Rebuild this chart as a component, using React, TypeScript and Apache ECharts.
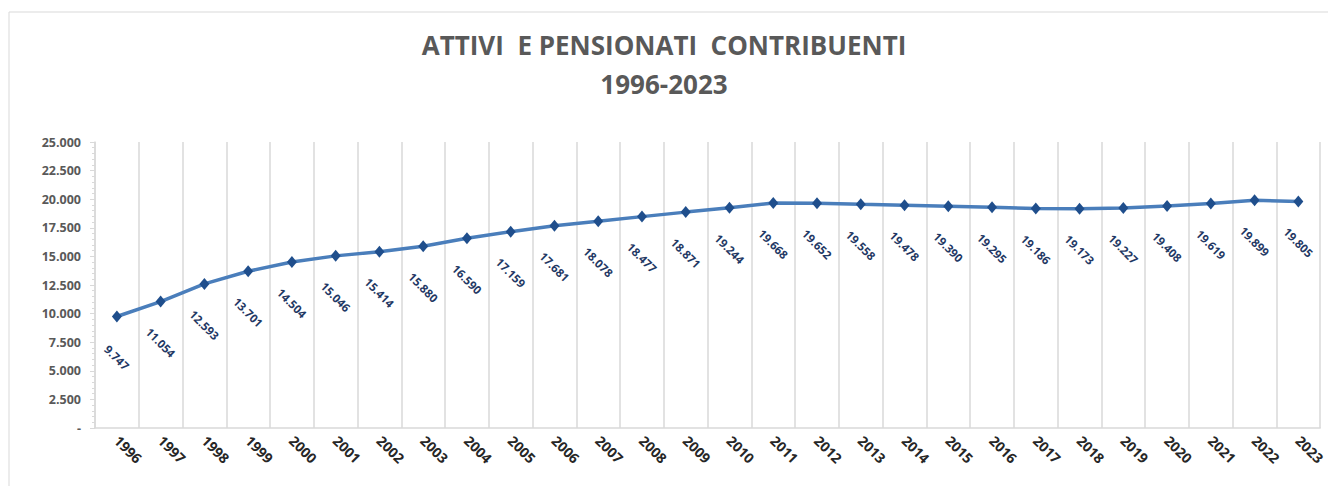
import React, { useEffect, useRef } from "react";
import * as echarts from "echarts";

const years = [
  "1996", "1997", "1998", "1999", "2000", "2001", "2002", "2003", "2004", "2005",
  "2006", "2007", "2008", "2009", "2010", "2011", "2012", "2013", "2014", "2015",
  "2016", "2017", "2018", "2019", "2020", "2021", "2022", "2023",
];
const contributors = [
  9747, 11054, 12593, 13701, 14504, 15046, 15414, 15880, 16590, 17159,
  17681, 18078, 18477, 18871, 19244, 19668, 19652, 19558, 19478, 19390,
  19295, 19186, 19173, 19227, 19408, 19619, 19899, 19805,
];
const titleLines = ["ATTIVI  E PENSIONATI  CONTRIBUENTI", "1996-2023"];

const fmt = (v: number) => {
  if (v === 0) return "-";
  return String(Math.round(v)).replace(/\B(?=(\d{3})+(?!\d))/g, ".");
};

export default function App() {
  const ref = useRef<HTMLDivElement>(null);
  useEffect(() => {
    if (!ref.current) return;
    const chart = echarts.init(ref.current, null, { renderer: "svg" });
    chart.setOption({
      animation: false,
      backgroundColor: "#ffffff",
      graphic: [
        {
          type: "rect",
          shape: { x: 9, y: 12, width: 1330, height: 500 },
          style: { fill: "none", stroke: "#d9d9d9", lineWidth: 1 },
          silent: true,
          z: -1,
        },
      ],
      title: {
        text: titleLines.join("\n"),
        left: "center",
        top: 20,
        textStyle: {
          fontFamily: "Open Sans",
          fontWeight: "bold",
          fontSize: 26,
          color: "#595959",
          lineHeight: 39,
        },
      },
      grid: { left: 95, right: 5, top: 142, bottom: 58 },
      xAxis: {
        type: "category",
        data: years,
        boundaryGap: true,
        axisLine: { lineStyle: { color: "#d9d9d9", width: 1.5 } },
        axisTick: { show: false },
        splitLine: { show: true, lineStyle: { color: "#d9d9d9", width: 1.5 } },
        axisLabel: {
          rotate: -45,
          margin: 10,
          interval: 0,
          fontFamily: "Open Sans",
          fontWeight: "bold",
          fontSize: 14,
          color: "#262626",
        },
      },
      yAxis: {
        type: "value",
        min: 0,
        max: 25000,
        interval: 2500,
        axisLine: { show: true, lineStyle: { color: "#d9d9d9", width: 1.5 } },
        axisTick: { show: true, inside: false, length: 5, lineStyle: { color: "#d9d9d9" } },
        minorTick: { show: true, splitNumber: 5, length: 3, lineStyle: { color: "#d9d9d9" } },
        splitLine: { show: false },
        axisLabel: {
          formatter: (v: number) => fmt(v),
          margin: 14,
          fontFamily: "Open Sans",
          fontWeight: "bold",
          fontSize: 12.5,
          color: "#595959",
        },
      },
      series: [
        {
          type: "line",
          data: contributors,
          symbol: "diamond",
          symbolSize: [10, 12],
          lineStyle: { color: "#4a7ebb", width: 3.5 },
          itemStyle: { color: "#1f4e8c" },
          label: {
            show: true,
            position: "bottom",
            distance: 35,
            rotate: -45,
            align: "center",
            verticalAlign: "middle",
            formatter: (p: any) => fmt(p.value),
            fontFamily: "Open Sans",
            fontWeight: "bold",
            fontSize: 11.5,
            color: "#1f3864",
          },
        },
      ],
    });
    return () => chart.dispose();
  }, []);
  return <div ref={ref} style={{ width: 1328, height: 486, position: "absolute", left: 0, top: 0 }} />;
}
